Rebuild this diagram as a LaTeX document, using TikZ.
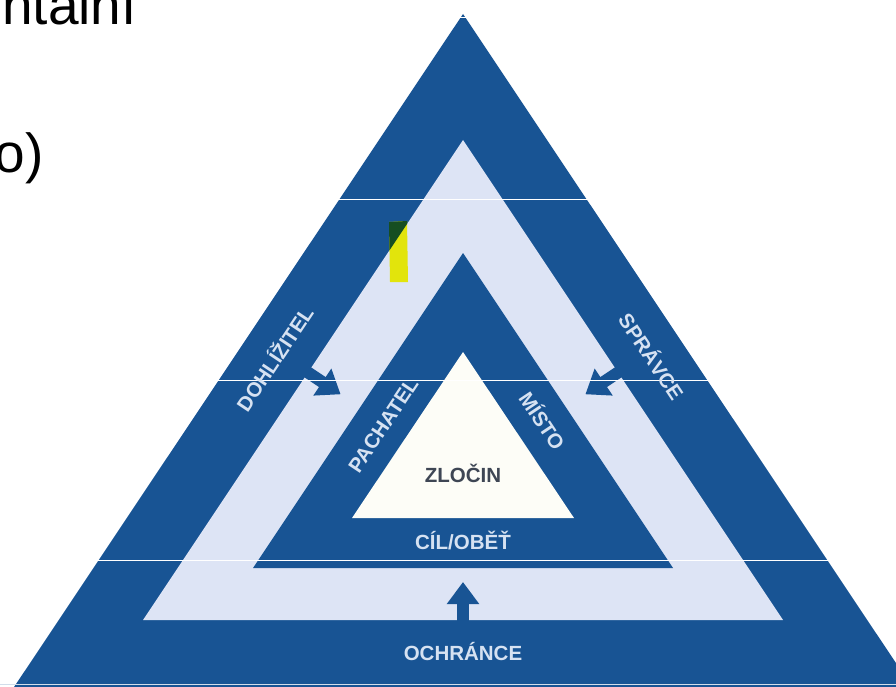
\documentclass[tikz,border=0pt]{standalone}
\usepackage{fontspec}
\setmainfont{Liberation Sans}
\usetikzlibrary{arrows.meta}
\definecolor{dblue}{RGB}{24,84,148}
\definecolor{lband}{RGB}{221,228,245}
\definecolor{wcore}{RGB}{253,253,247}
\definecolor{ltext}{RGB}{214,226,242}
\definecolor{ctext}{RGB}{62,70,84}
\definecolor{hl}{RGB}{226,228,12}
\definecolor{hldark}{RGB}{22,78,34}
\begin{document}
\begin{tikzpicture}[x=1pt,y=-1pt,
  band/.style={font=\fontsize{20.5}{20.5}\selectfont\bfseries, text=ltext, inner sep=0pt, text height=14.7pt, text depth=0pt},
  slide/.style={font=\fontsize{55}{55}\selectfont, text=black, inner sep=0pt},
  blockarrow/.style={draw=dblue, line width=12pt, -{Triangle[width=31pt,length=22pt]}},
  scanline/.style={white, line width=0.9pt}]
\useasboundingbox (0,0) rectangle (896,687);
\begin{scope}
\clip (0,0) rectangle (896,687);
\fill[white] (0,0) rectangle (896,687);
% triangles
\coordinate (O1) at (463,14);
\coordinate (O2) at (5.4,700);
\coordinate (O3) at (920.6,700);
\coordinate (L1) at (463,140);
\coordinate (L2) at (143,620);
\coordinate (L3) at (783,620);
\coordinate (D1) at (463,253);
\coordinate (D2) at (253,568);
\coordinate (D3) at (673,568);
\coordinate (W1) at (463,352);
\coordinate (W2) at (352,518);
\coordinate (W3) at (574,518);
\fill[dblue] (O1) -- (O2) -- (O3) -- cycle;
\fill[lband] (L1) -- (L2) -- (L3) -- cycle;
\fill[dblue] (D1) -- (D2) -- (D3) -- cycle;
\fill[wcore] (W1) -- (W2) -- (W3) -- cycle;
% arrows
\coordinate (la) at (304.9,370.4);
\coordinate (lt) at (340.6,394.3);
\coordinate (ra) at (621.1,370.4);
\coordinate (rt) at (585.4,394.3);
\coordinate (ba) at (463,624);
\coordinate (bt) at (463,582);
\draw[blockarrow] (la) -- (lt);
\draw[blockarrow] (ra) -- (rt);
\draw[blockarrow] (ba) -- (bt);
% highlighter mark
\fill[hl] (389,222) -- (407,221) -- (408,282) -- (390,282) -- cycle;
\begin{scope}
\clip (389,222) -- (407,221) -- (408,282) -- (390,282) -- cycle;
\fill[hldark, even odd rule] (O1) -- (O2) -- (O3) -- cycle (L1) -- (L2) -- (L3) -- cycle;
\end{scope}
% scan lines
\draw[scanline] (440,17) -- (486,17);
\draw[scanline] (0,199) -- (896,199);
\draw[scanline] (0,380) -- (896,380);
\draw[scanline] (0,560) -- (896,560);
\draw[white!80!dblue, line width=1pt] (0,684.5) -- (896,684.5);
% labels
\node[band, rotate=56.3] (dohl) at (275,359) {DOHLÍŽITEL};
\node[band, rotate=-56.3] (sprav) at (651,357) {SPRÁVCE};
\node[band, rotate=56.3] (pach) at (383,425) {PACHATEL};
\node[band, rotate=-56.3] (misto) at (542,421) {MÍSTO};
\node[band, text=ctext] (zlocin) at (463,475) {ZLOČIN};
\node[band] (cil) at (463,542) {CÍL/OBĚŤ};
\node[band] (ochr) at (463,653) {OCHRÁNCE};
% slide text fragments
\node[slide, anchor=base west] (frag1) at (2,25) {ntální};
\node[slide, anchor=base east] (frag2) at (44,172) {o)};
\end{scope}
\end{tikzpicture}
\end{document}
